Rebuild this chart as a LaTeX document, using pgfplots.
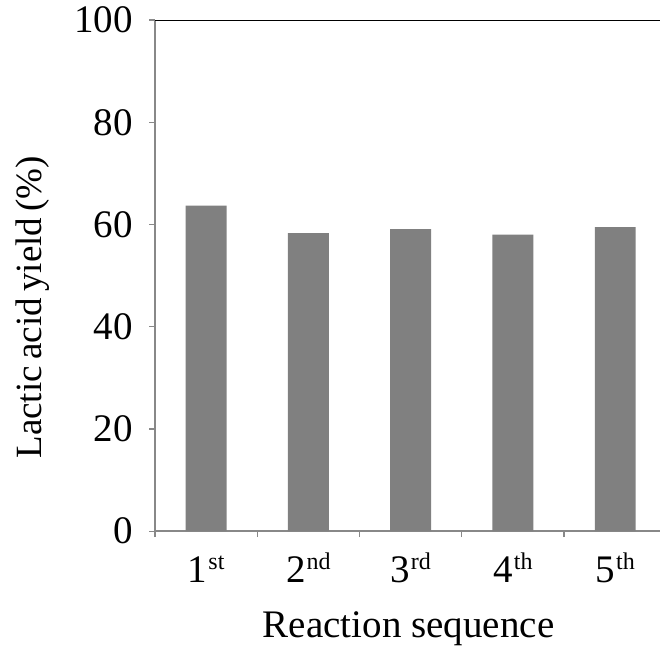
\documentclass[border=0pt]{standalone}
\usepackage{fontspec}
\setmainfont{Liberation Serif}
\usepackage{pgfplots}
\pgfplotsset{compat=1.18}
\definecolor{bargray}{HTML}{808080}
\definecolor{axgray}{HTML}{888888}
\newcommand\ord[2]{#1\hspace{0.5pt}\raisebox{6.5pt}{\fontsize{12}{14}\selectfont #2}}
\begin{document}
\begin{tikzpicture}
\begin{axis}[
  scale only axis,
  width=252.5pt, height=255.5pt,
  xmin=-0.5, xmax=4.44,
  ymin=0, ymax=100,
  axis x line*=bottom, axis y line*=left,
  axis line style={-, axgray, line width=0.8pt},
  tick align=outside,
  xtick={0,1,2,3,4},
  xticklabels={\ord{1}{st},\ord{2}{nd},\ord{3}{rd},\ord{4}{th},\ord{5}{th}},
  major x tick style={draw=none},
  minor xtick={-0.5,0.5,1.5,2.5,3.5},
  minor tick length=3pt,
  ytick={0,20,40,60,80,100},
  major tick length=3pt,
  tick style={axgray, line width=0.6pt},
  /pgf/number format/assume math mode=true,
  tick label style={font=\fontsize{19.5}{22}\selectfont},
  xticklabel style={anchor=base, yshift=-22.5pt},
  yticklabel style={xshift=-4.5pt},
  label style={font=\fontsize{19.5}{22}\selectfont},
  xlabel={Reaction sequence},
  ylabel={\fontsize{18.5}{22}\selectfont Lactic\hspace{0.17em}acid\hspace{0.17em}yield\hspace{0.17em}(\%)},
  ylabel style={at={(axis description cs:-0.224,0.438)}, rotate=0, anchor=base},
  xlabel style={at={(axis description cs:0.502,-0.2074)}, anchor=base},
  ybar, bar width=0.4,
]
\addplot[fill=bargray, draw=none] coordinates {(0,63.7) (1,58.3) (2,59.1) (3,58.0) (4,59.5)};
\draw[black, line width=0.7pt] (rel axis cs:0,1) -- (rel axis cs:1,1);
\coordinate (ll) at (rel axis cs:0,0);
\coordinate (ul) at (rel axis cs:0,1);
\end{axis}
\path (ll) ++(-77.5pt,-56.5pt);
\path (ul) ++(0,10pt);
\end{tikzpicture}
\end{document}
